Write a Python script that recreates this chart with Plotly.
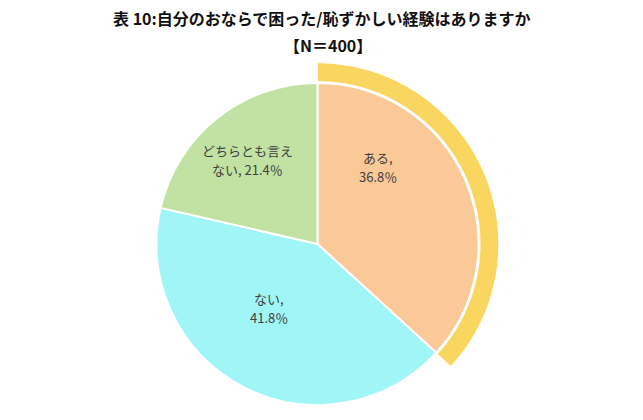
import plotly.graph_objects as go

# ---- data ----
categories = ["ある", "ない", "どちらとも言えない"]
shares = [36.8, 41.8, 21.4]          # percent
sample_n = 400
highlight = "ある"                    # slice emphasised by outer ring
title_text = "表 10:自分のおならで困った/恥ずかしい経験はありますか"

# ---- styles ----
slice_colors = ["#FBC898", "#A0F6F6", "#C1E2A2"]
ring_color = "#F9D65F"
text_color = "#404040"
font_jp = "Noto Sans CJK JP"

W, H = 643, 420
cx, cy = 317.5, 244.0     # pie centre (px from top-left)
r_pie = 161.0
r_ring_in, r_ring_out = 163.0, 181.0

fig = go.Figure()

# main pie
fig.add_trace(go.Pie(
    labels=categories, values=shares, sort=False, direction="clockwise",
    rotation=0, textinfo="none", hoverinfo="label+percent",
    marker=dict(colors=slice_colors, line=dict(color="white", width=2)),
    domain=dict(x=[(cx - r_pie) / W, (cx + r_pie) / W],
                y=[1 - (cy + r_pie) / H, 1 - (cy - r_pie) / H]),
    showlegend=False,
))

# outer highlight ring (barpolar on a sector polar subplot)
idx = categories.index(highlight)
start = sum(shares[:idx]) * 3.6
span = shares[idx] * 3.6
fig.add_trace(go.Barpolar(
    r=[(r_ring_out - r_ring_in) / r_pie], base=[r_ring_in / r_pie],
    theta=[start + span / 2], width=[span],
    marker=dict(color=ring_color, line=dict(width=0)),
    hoverinfo="skip", showlegend=False,
))

s = 0.70710678
fig.update_layout(
    polar=dict(
        domain=dict(x=[cx / W, (cx + r_ring_out) / W],
                    y=[1 - (cy + s * r_ring_out) / H, 1 - (cy - r_ring_out) / H]),
        sector=[-45, 90], hole=0, bgcolor="rgba(0,0,0,0)",
        angularaxis=dict(direction="clockwise", rotation=90, visible=False,
                         showgrid=False),
        radialaxis=dict(range=[0, r_ring_out / r_pie], visible=False,
                        showgrid=False),
    ),
)

# slice labels (two lines each, drawn as separate texts)
label_lines = []
for c, v in zip(categories, shares):
    if len(c) > 7:
        label_lines.append((c[:7], f"{c[7:]}, {v:.1f}％"))
    else:
        label_lines.append((f"{c},", f"{v:.1f}％"))
label_pos = [(378, 167), (269, 308), (247, 160)]
line_gap = 19
for (l1, l2), (px, py) in zip(label_lines, label_pos):
    for t, yy in ((l1, py - line_gap / 2), (l2, py + line_gap / 2)):
        fig.add_annotation(text=t, x=px / W, y=1 - yy / H, xref="paper", yref="paper",
                           showarrow=False, xanchor="center", yanchor="middle",
                           font=dict(family=font_jp, size=13, color=text_color))

# title
fig.add_annotation(text=title_text, x=321 / W, y=1 - 18 / H, xref="paper", yref="paper",
                   showarrow=False, xanchor="center", yanchor="middle",
                   font=dict(family=font_jp, size=16, color="#111111", weight="bold"))
fig.add_annotation(text=f"【N＝{sample_n}】", x=328 / W, y=1 - 45 / H, xref="paper",
                   yref="paper", showarrow=False, xanchor="center", yanchor="middle",
                   font=dict(family=font_jp, size=16, color="#111111", weight="bold"))

fig.update_layout(
    width=W, height=H, margin=dict(l=0, r=0, t=0, b=0),
    paper_bgcolor="white", plot_bgcolor="white",
)

fig.write_html("out.html")
